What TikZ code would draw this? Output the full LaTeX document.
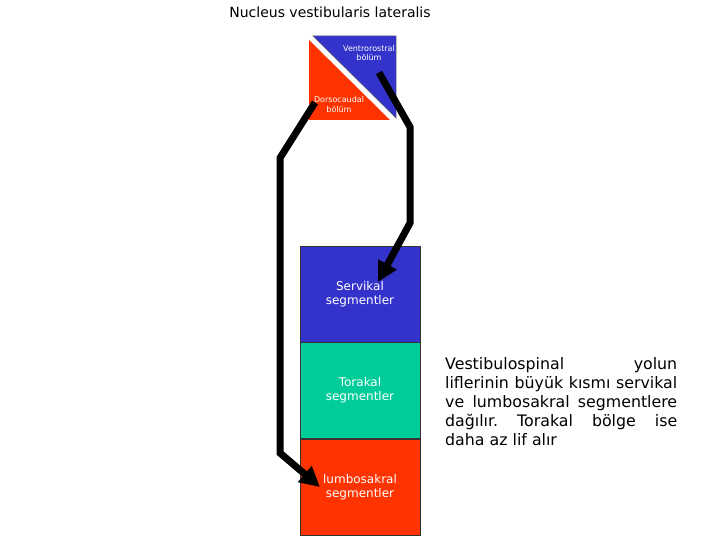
\documentclass[tikz,border=0pt]{standalone}
\usepackage{fontspec}
\setmainfont{DejaVu Sans}
\frenchspacing
\usetikzlibrary{arrows.meta,positioning}
\definecolor{vslBlue}{HTML}{3333CC}
\definecolor{vslGreen}{HTML}{00CC99}
\definecolor{vslRed}{HTML}{FF3300}
\tikzset{
  seg/.style={draw=black!80, line width=0.6pt, minimum width=120pt, minimum height=96pt,
              align=center, text=white, inner sep=0pt, font=\fontsize{12}{14}\selectfont},
  tri/.style={line width=0.5pt},
  lbl/.style={align=center, text=white, inner sep=0pt, font=\fontsize{8}{9.5}\selectfont},
  ttl/.style={inner sep=0pt, font=\fontsize{14}{16}\selectfont},
  note/.style={anchor=north west, text width=232pt, align=justify, inner sep=0pt,
              font=\fontsize{15.8}{19}\selectfont},
  tract/.style={-{Triangle[length=20pt,width=20pt]}, line width=7pt, draw=black},
}
\begin{document}
\begin{tikzpicture}[x=1pt,y=-1pt]
  \useasboundingbox (0,0) rectangle (720,540);
  % nucleus: two halves
  \fill[vslRed] (309,40) -- (309,120) -- (390,120) -- cycle;
  \filldraw[tri, fill=vslBlue, draw=black!60] (313,36) -- (396,36) -- (396,118) -- cycle;
  \node[lbl] (vr) at (369,53) {Ventrorostral\\bölüm};
  \node[lbl] (dc) at (339,104.5) {Dorsocaudal\\bölüm};
  \node[ttl] (title) at (330,12.5) {Nucleus vestibularis lateralis};
  % spinal cord segments
  \node[seg, fill=vslBlue] (serv) at (360,294) {Servikal\\segmentler};
  \node[seg, fill=vslGreen, below=0pt of serv] (tor) {Torakal\\segmentler};
  \node[seg, fill=vslRed, below=0pt of tor] (lumb) {lumbosakral\\segmentler};
  % tracts
  \coordinate (vrStart) at (379,72.5);
  \coordinate (vrBendA) at (410,127);
  \coordinate (vrBendB) at (410,223);
  \coordinate (servTip) at (378,282);
  \coordinate (dcStart) at (315,102.5);
  \coordinate (dcBendA) at (280,158);
  \coordinate (dcBendB) at (280,453);
  \coordinate (lumbTip) at (320,487);
  \draw[tract] (vrStart) -- (vrBendA) -- (vrBendB) -- (servTip);
  \draw[tract] (dcStart) -- (dcBendA) -- (dcBendB) -- (lumbTip);
  % description
  \node[note] (desc) at (445,357) {Vestibulospinal yolun\linebreak
    liflerinin büyük kısmı servikal\linebreak
    ve lumbosakral segmentlere\linebreak
    dağılır. Torakal bölge ise\linebreak
    daha az lif alır};
\end{tikzpicture}
\end{document}
